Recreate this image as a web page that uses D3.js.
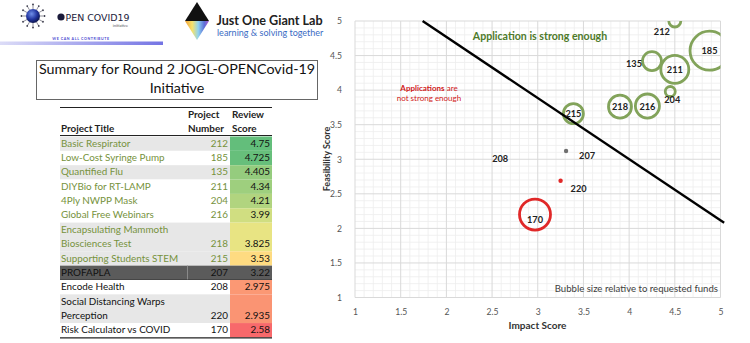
<!DOCTYPE html>
<html><head><meta charset="utf-8">
<script src="https://cdn.jsdelivr.net/npm/d3@7"></script>
<style>body{margin:0;background:#fff} svg{display:block;font-family:Lato,'Open Sans',sans-serif}</style>
</head><body>
<svg id="c" width="750" height="343"></svg>
<script>
// ---------------- data ----------------
const projectIds       = ["212","185","135","211","204","216","218","215","207","208","220","170"];
const impactScore      = [4.5, 4.88, 4.25, 4.5, 4.45, 4.2, 3.9, 3.39, 3.31, 2.37, 3.25, 2.97];
const feasibilityScore = [5.0, 4.57, 4.42, 4.30, 3.98, 3.77, 3.76, 3.66, 3.12, 3.10, 2.69, 2.20];
const requestedFunds   = [36, 380, 90, 196, 25, 144, 132, 100, 4, 0, 4, 240];
const bubbleStatus     = ["pass","pass","pass","pass","pass","pass","pass","pass","border","fail","fail","fail"];
const thresholdLine    = [[1.74, 5.0], [5.04, 2.08]];
const axisTicks        = [1, 1.5, 2, 2.5, 3, 3.5, 4, 4.5, 5];

const tableTitles  = [["Basic Respirator"],["Low-Cost Syringe Pump"],["Quantified Flu"],["DIYBio for RT-LAMP"],
  ["4Ply NWPP Mask"],["Global Free Webinars"],["Encapsulating Mammoth","Biosciences Test"],["Supporting Students STEM"],
  ["PROFAPLA"],["Encode Health"],["Social Distancing Warps","Perception"],["Risk Calculator vs COVID"]];
const tableNumbers = ["212","185","135","211","204","216","218","215","207","208","220","170"];
const tableScores  = [4.75, 4.725, 4.405, 4.34, 4.21, 3.99, 3.825, 3.53, 3.22, 2.975, 2.935, 2.58];
const tableScoreLabels = ["4.75","4.725","4.405","4.34","4.21","3.99","3.825","3.53","3.22","2.975","2.935","2.58"];
const tableStatus  = ["pass","pass","pass","pass","pass","pass","pass","pass","border","fail","fail","fail"];
const tableBand    = [1,0,1,0,0,0,1,1,2,0,1,0];

// ---------------- setup ----------------
const svg = d3.select("#c");
svg.append("rect").attr("width",750).attr("height",343).attr("fill","#fff");
const defs = svg.append("defs");

// ---------------- logos ----------------
const sph = defs.append("radialGradient").attr("id","sph").attr("cx","40%").attr("cy","35%").attr("r","65%");
sph.append("stop").attr("offset","0%").attr("stop-color","#6f8fe8");
sph.append("stop").attr("offset","60%").attr("stop-color","#2336a0");
sph.append("stop").attr("offset","100%").attr("stop-color","#0d1650");
const bar = defs.append("linearGradient").attr("id","bar");
bar.append("stop").attr("offset","0%").attr("stop-color","#dcdcf7");
bar.append("stop").attr("offset","100%").attr("stop-color","#7474e4");
const rb = defs.append("linearGradient").attr("id","rb").attr("x1","0").attr("x2","1");
[["0%","#f2a03a"],["30%","#f6e36a"],["55%","#8fd3f0"],["80%","#5b6fd8"],["100%","#b05ad0"]]
  .forEach(s=>rb.append("stop").attr("offset",s[0]).attr("stop-color",s[1]));

const lg = svg.append("g");
for (let i=0;i<12;i++){
  const a = i/12*Math.PI*2;
  lg.append("line").attr("x1",33+Math.cos(a)*7).attr("y1",16+Math.sin(a)*7)
    .attr("x2",33+Math.cos(a)*10.5).attr("y2",16+Math.sin(a)*10.5).attr("stroke","#445").attr("stroke-width",0.6);
  lg.append("circle").attr("cx",33+Math.cos(a)*11.5).attr("cy",16+Math.sin(a)*11.5).attr("r",0.9).attr("fill","#334");
}
lg.append("circle").attr("cx",33).attr("cy",16).attr("r",7).attr("fill","url(#sph)");
lg.append("circle").attr("cx",61).attr("cy",17).attr("r",3.6).attr("fill","#1a1a3a");
lg.append("text").attr("x",65.5).attr("y",20.8).attr("font-family","'DejaVu Sans',sans-serif").attr("font-size",9.4)
  .attr("textLength",64).attr("lengthAdjust","spacingAndGlyphs").attr("fill","#1a1a3a").text("PEN COVID19");
lg.append("text").attr("x",128).attr("y",26.5).attr("text-anchor","end").attr("font-size",4).attr("fill","#555").text("initiative");
lg.append("text").attr("x",81).attr("y",39.5).attr("text-anchor","middle").attr("font-size",3.6).attr("letter-spacing",0.6)
  .attr("font-weight","bold").attr("fill","#4a4ad0").text("WE CAN ALL CONTRIBUTE");
lg.append("rect").attr("x",0).attr("y",41.5).attr("width",163).attr("height",3.5).attr("fill","url(#bar)");

lg.append("path").attr("d","M197,2 L185,21 L209,21 Z").attr("fill","#111");
lg.append("path").attr("d","M185,21 L209,21 L197,40 Z").attr("fill","url(#rb)");
lg.append("text").attr("x",216.5).attr("y",25).attr("font-size",12.6).attr("font-weight","bold").attr("fill","#222").text("Just One Giant Lab");
lg.append("text").attr("x",217).attr("y",35.5).attr("font-size",9).attr("fill","#3b6cc4").text("learning & solving together");

// ---------------- title box ----------------
svg.append("rect").attr("x",36.5).attr("y",60.5).attr("width",281).attr("height",39).attr("fill","#fff").attr("stroke","#666");
svg.append("text").attr("x",177).attr("y",74).attr("text-anchor","middle").attr("font-size",14.3).attr("fill","#111")
  .text("Summary for Round 2 JOGL-OPENCovid-19");
svg.append("text").attr("x",177).attr("y",93).attr("text-anchor","middle").attr("font-size",14.3).attr("fill","#111")
  .text("Initiative");

// ---------------- table ----------------
const L = 14.35, tTop = 136.5, tx0 = 60, numR = 228, scX0 = 230, scX1 = 272;
const tg = svg.append("g").attr("font-size",9.9);
const heat = d3.scaleLinear()
  .domain([d3.min(tableScores), (d3.min(tableScores)+d3.max(tableScores))/2, d3.max(tableScores)])
  .range(["#f8696b","#ffeb84","#63be7b"]);
const textCol = {pass:"#76923c", border:"#111", fail:"#111"};
tg.append("line").attr("x1",tx0).attr("x2",scX1).attr("y1",107.5).attr("y2",107.5).attr("stroke","#222").attr("stroke-width",1.2);
tg.append("text").attr("x",61).attr("y",131.5).attr("font-weight","bold").attr("fill","#222").text("Project Title");
tg.append("text").attr("x",188).attr("y",118).attr("font-weight","bold").attr("fill","#222").text("Project");
tg.append("text").attr("x",188).attr("y",131.5).attr("font-weight","bold").attr("fill","#222").text("Number");
tg.append("text").attr("x",232).attr("y",118).attr("font-weight","bold").attr("fill","#222").text("Review");
tg.append("text").attr("x",232).attr("y",131.5).attr("font-weight","bold").attr("fill","#222").text("Score");
tg.append("line").attr("x1",tx0).attr("x2",scX1).attr("y1",135.5).attr("y2",135.5).attr("stroke","#222").attr("stroke-width",1);

let line = 0;
tableTitles.forEach((tl,i)=>{
  const top = tTop + line*L, h = tl.length*L;
  const bandFill = tableBand[i]===2 ? "#5b5b5b" : (tableBand[i]===1 ? "#e7e7e7" : "#fff");
  tg.append("rect").attr("x",tx0).attr("y",top).attr("width",scX0-tx0).attr("height",h).attr("fill",bandFill);
  tg.append("rect").attr("x",scX0).attr("y",top).attr("width",scX1-scX0).attr("height",h)
    .attr("fill", tableStatus[i]==="border" ? "#5b5b5b" : heat(tableScores[i]));
  if (tableStatus[i]==="border") {
    tg.append("line").attr("x1",187.5).attr("x2",187.5).attr("y1",top).attr("y2",top+h).attr("stroke","#8a8a8a");
    tg.append("line").attr("x1",tx0).attr("x2",scX1).attr("y1",top+h).attr("y2",top+h).attr("stroke","#333");
  }
  tl.forEach((t,k)=>{
    tg.append("text").attr("x",61).attr("y",top+10.2+k*L).attr("fill",textCol[tableStatus[i]]).text(t);
  });
  const by = top + 10.2 + (tl.length-1)*L;
  tg.append("text").attr("x",numR).attr("y",by).attr("text-anchor","end").attr("fill",textCol[tableStatus[i]]).text(tableNumbers[i]);
  tg.append("text").attr("x",270).attr("y",by).attr("text-anchor","end").attr("fill","#111").text(tableScoreLabels[i]);
  line += tl.length;
});
tg.append("line").attr("x1",tx0).attr("x2",scX1).attr("y1",tTop+line*L+0.5).attr("y2",tTop+line*L+0.5).attr("stroke","#222").attr("stroke-width",1.2);

// ---------------- bubble chart ----------------
const px0 = 355, px1 = 720.5, py0 = 21, py1 = 297.5;
const x = d3.scaleLinear().domain([1,5]).range([px0,px1]);
const y = d3.scaleLinear().domain([1,5]).range([py1,py0]);
const r = d3.scaleSqrt().domain([0, d3.max(requestedFunds)]).range([0, 19.5]);
const cg = svg.append("g");

const minor = d3.range(10, 51).map(v=>v/10).filter(v=>Math.round(v*10)%5!==0);
cg.selectAll(".mx").data(minor).join("line").attr("x1",d=>x(d)).attr("x2",d=>x(d)).attr("y1",py0).attr("y2",py1).attr("stroke","#eeeeee").attr("stroke-width",0.8);
cg.selectAll(".my").data(minor).join("line").attr("y1",d=>y(d)).attr("y2",d=>y(d)).attr("x1",px0).attr("x2",px1).attr("stroke","#eeeeee").attr("stroke-width",0.8);
cg.selectAll(".Mx").data(axisTicks).join("line").attr("x1",d=>x(d)).attr("x2",d=>x(d)).attr("y1",py0).attr("y2",py1).attr("stroke","#d9d9d9");
cg.selectAll(".My").data(axisTicks).join("line").attr("y1",d=>y(d)).attr("y2",d=>y(d)).attr("x1",px0).attr("x2",px1).attr("stroke","#d9d9d9");

const ax = cg.append("g").attr("transform",`translate(0,${py1+8})`)
  .call(d3.axisBottom(x).tickValues(axisTicks).tickSize(0).tickFormat(d3.format("")));
ax.select(".domain").remove();
ax.selectAll("text").attr("font-family","Lato,sans-serif").attr("font-size",8.6).attr("fill","#555");
const ay = cg.append("g").attr("transform",`translate(${px0-10},0)`)
  .call(d3.axisLeft(y).tickValues(axisTicks).tickSize(0).tickFormat(d3.format("")));
ay.select(".domain").remove();
ay.selectAll("text").attr("font-family","Lato,sans-serif").attr("font-size",8.6).attr("fill","#555");

cg.append("text").attr("x",537.5).attr("y",329).attr("text-anchor","middle").attr("font-size",10).attr("font-weight","bold").attr("fill","#333").text("Impact Score");
cg.append("text").attr("transform",`translate(330,159) rotate(-90)`).attr("text-anchor","middle").attr("font-size",9).attr("font-weight","bold").attr("fill","#333").text("Feasibility Score");

defs.append("clipPath").attr("id","plot").append("rect").attr("x",px0).attr("y",py0).attr("width",px1-px0).attr("height",py1-py0);

const strokeCol = {pass:"#82a35a", border:"#707070", fail:"#e02828"};
const bub = cg.append("g").attr("clip-path","url(#plot)");
projectIds.forEach((id,i)=>{
  const rr = r(requestedFunds[i]);
  if (rr < 0.5) return;
  if (rr < 3) {
    bub.append("circle").attr("cx",x(impactScore[i])).attr("cy",y(feasibilityScore[i])).attr("r",2.2)
      .attr("fill",strokeCol[bubbleStatus[i]]);
  } else {
    bub.append("circle").attr("cx",x(impactScore[i])).attr("cy",y(feasibilityScore[i])).attr("r",rr)
      .attr("fill","none").attr("stroke",strokeCol[bubbleStatus[i]]).attr("stroke-width",2.8);
  }
});

cg.append("line").attr("x1",x(thresholdLine[0][0])).attr("y1",y(thresholdLine[0][1]))
  .attr("x2",x(thresholdLine[1][0])).attr("y2",y(thresholdLine[1][1])).attr("stroke","#000").attr("stroke-width",2.4);

const labelOffset = {"212":[-13,14],"135":[-18,6],"204":[2,11.5],"207":[21,8],"208":[20,10],"220":[18,11],"170":[0,8]};
projectIds.forEach((id,i)=>{
  const o = labelOffset[id] || [0,3.5];
  cg.append("text").attr("x",x(impactScore[i])+o[0]).attr("y",y(feasibilityScore[i])+o[1])
    .attr("text-anchor","middle").attr("font-size",9.2).attr("font-weight","bold").attr("fill","#222").text(id);
});

cg.append("text").attr("x",540).attr("y",39.5).attr("text-anchor","middle").attr("font-size",10.6).attr("font-weight","bold").attr("fill","#4e7a2a").text("Application is strong enough");
const ta = cg.append("text").attr("x",429).attr("y",91).attr("text-anchor","middle").attr("font-size",8).attr("fill","#d01818");
ta.append("tspan").attr("font-weight","bold").text("Applications");
ta.append("tspan").text(" are");
cg.append("text").attr("x",429).attr("y",101).attr("text-anchor","middle").attr("font-size",8).attr("fill","#d01818").text("not strong enough");
cg.append("text").attr("x",718).attr("y",292).attr("text-anchor","end").attr("font-size",9.6).attr("fill","#404040").text("Bubble size relative to requested funds");
</script>
</body></html>
